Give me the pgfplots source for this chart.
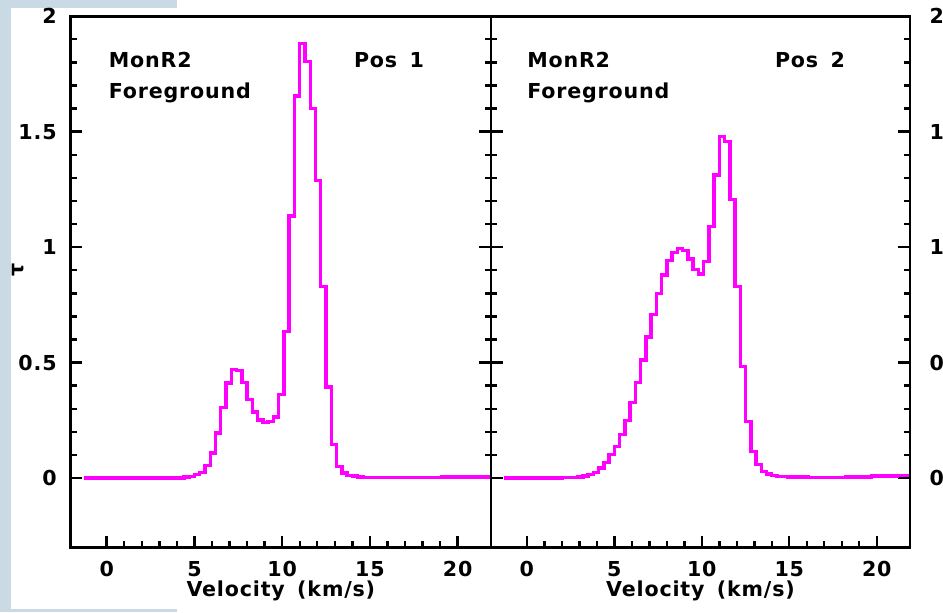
\documentclass[border=0pt]{standalone}
\usepackage{fontspec}
\setmainfont{DejaVu Sans}
\usepackage{pgfplots}
\usepackage{pgfplotstable}
\pgfplotsset{compat=1.18}

\definecolor{pagebg}{RGB}{201,218,228}
\definecolor{spec}{RGB}{255,0,255}
\newcommand{\lbl}{\fontsize{10.3}{12}\selectfont\bfseries\addfontfeatures{LetterSpace=4}}
\newcommand{\wsp}{\hspace{0.6em}}

% optical depth spectra: left channel edge (km/s), tau
\pgfplotstableread{
v tau
-1.3 0.000
4.4 0.004
4.7 0.007
5.0 0.014
5.3 0.024
5.6 0.055
5.9 0.108
6.2 0.195
6.5 0.306
6.8 0.411
7.1 0.469
7.4 0.466
7.7 0.414
8.0 0.340
8.3 0.286
8.6 0.251
8.9 0.241
9.2 0.245
9.5 0.265
9.8 0.363
10.1 0.635
10.4 1.135
10.7 1.655
11.0 1.883
11.3 1.805
11.6 1.600
11.9 1.288
12.2 0.830
12.5 0.395
12.8 0.144
13.1 0.050
13.4 0.022
13.7 0.012
14.0 0.008
14.3 0.005
14.6 0.003
15.2 0.002
17.0 0.002
19.1 0.004
20.3 0.005
21.9 0.005
}\posone

\pgfplotstableread{
v tau
-1.3 0.000
2.0 0.002
2.6 0.003
2.9 0.005
3.2 0.008
3.5 0.015
3.8 0.025
4.1 0.044
4.4 0.068
4.7 0.101
5.0 0.137
5.3 0.188
5.6 0.250
5.9 0.328
6.2 0.414
6.5 0.512
6.8 0.610
7.1 0.707
7.4 0.800
7.7 0.880
8.0 0.942
8.3 0.976
8.6 0.995
8.9 0.985
9.2 0.948
9.5 0.902
9.8 0.884
10.1 0.938
10.4 1.090
10.7 1.313
11.0 1.479
11.3 1.457
11.6 1.205
11.9 0.830
12.2 0.483
12.5 0.245
12.8 0.115
13.1 0.058
13.4 0.029
13.7 0.017
14.0 0.010
14.3 0.006
14.9 0.004
16.1 0.003
18.2 0.005
19.7 0.008
21.2 0.010
21.9 0.010
}\postwo

\pgfplotsset{
  specpanel/.style={
    scale only axis,
    width=209.8pt, height=265.55pt,
    xmin=-2.05, xmax=21.9, ymin=-0.3, ymax=2,
    xtick={0,5,10,15,20}, minor x tick num=4,
    ytick={0,0.5,1,1.5,2}, minor y tick num=4,
    xtick pos=bottom, ytick pos=both,
    tick align=inside,
    major tick length=5.8pt, minor tick length=3.2pt,
    axis line style={line width=1.4pt},
    every tick/.style={black, line width=1.2pt},
    ticklabel style={font=\lbl},
    /pgf/number format/assume math mode=true,
    xticklabel style={anchor=base, inner sep=0pt, yshift=-14.7pt},
    xlabel={Velocity\wsp(km/s)},
    xlabel style={font=\lbl, at={(axis description cs:0.5,0)}, anchor=base, inner sep=0pt, yshift=-24.6pt},
  },
  specline/.style={spec, line width=1.7pt, const plot mark left, mark=none},
}

\begin{document}
\begin{tikzpicture}
\useasboundingbox (0,0) rectangle (471.5pt,306pt);
\clip (0,0) rectangle (471.5pt,306pt);
\fill[white] (0,0) rectangle (471.5pt,306pt);
\fill[pagebg] (0,0) rectangle (88.5pt,306pt);
\fill[white] (5.25pt,1.35pt) rectangle (88.5pt,302pt);

\begin{axis}[specpanel, name=pone,
  at={(35.35pt,32.35pt)}, anchor=south west,
  width=210.15pt,
  yticklabel pos=left,
  yticklabel style={anchor=east, inner sep=0pt, xshift=-6.85pt},
  ylabel={τ},
  ylabel style={font=\lbl, at={(axis description cs:0,0.522)}, anchor=center, inner sep=0pt, yshift=26.35pt},
]
\addplot[specline] table[x=v, y=tau] {\posone};
\node[font=\lbl, anchor=base west, inner sep=0pt] at (axis cs:0.1,1.78) {MonR2};
\node[font=\lbl, anchor=base west, inner sep=0pt] at (axis cs:0.1,1.645) {Foreground};
\node[font=\lbl, anchor=base east, inner sep=0pt] at (axis cs:18.1,1.78) {Pos\wsp1};
\end{axis}

\begin{axis}[specpanel, name=ptwo,
  at={(245.5pt,32.35pt)}, anchor=south west,
  width=209.5pt,
  yticklabel pos=right,
  yticklabel style={anchor=west, inner sep=0pt, xshift=9.6pt},
]
\addplot[specline] table[x=v, y=tau] {\postwo};
\node[font=\lbl, anchor=base west, inner sep=0pt] at (axis cs:0.0,1.78) {MonR2};
\node[font=\lbl, anchor=base west, inner sep=0pt] at (axis cs:0.0,1.645) {Foreground};
\node[font=\lbl, anchor=base east, inner sep=0pt] at (axis cs:18.2,1.78) {Pos\wsp2};
\end{axis}

% heavier frames round both panels
\draw[line width=1.4pt] (pone.south west) rectangle (pone.north east);
\draw[line width=1.4pt] (ptwo.south west) rectangle (ptwo.north east);
\end{tikzpicture}
\end{document}
